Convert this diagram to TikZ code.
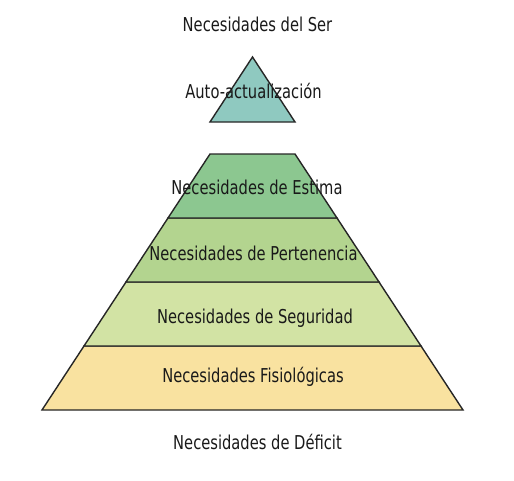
\documentclass[tikz,border=0pt]{standalone}
\usepackage{fontspec}
\setmainfont{DejaVu Sans}
\usepackage{tikz}
\definecolor{autoteal}{HTML}{8FC9C0}
\definecolor{estimagreen}{HTML}{8CC790}
\definecolor{pertgreen}{HTML}{B3D48F}
\definecolor{segugreen}{HTML}{D2E3A4}
\definecolor{fisioyellow}{HTML}{F9E2A0}
\newcommand{\tall}[1]{\scalebox{1}[1.3]{#1}}

\begin{document}
\begin{tikzpicture}[x=1pt, y=-1pt,
  band/.style={draw=black!85, line width=1.4pt, line join=miter},
  lbl/.style={anchor=base, inner sep=0pt, text=black!90, font=\fontsize{14.7}{17}\selectfont}
]
\useasboundingbox (0,0) rectangle (514,480);

% pyramid bands
\filldraw[band, fill=fisioyellow] (42,410) -- (84,346) -- (421,346) -- (463,410) -- cycle;
\filldraw[band, fill=segugreen] (84,346) -- (126,282) -- (379,282) -- (421,346) -- cycle;
\filldraw[band, fill=pertgreen] (126,282) -- (168,218) -- (337,218) -- (379,282) -- cycle;
\filldraw[band, fill=estimagreen] (168,218) -- (210,154) -- (295,154) -- (337,218) -- cycle;
\filldraw[band, fill=autoteal] (210,122) -- (252.5,57) -- (295,122) -- cycle;

\node[lbl] (ser) at (257.5,31) {\tall{Necesidades del Ser}};
\node[lbl] (auto) at (253.5,98) {\tall{Auto-actualización}};
\node[lbl] (estima) at (257,194) {\tall{Necesidades de Estima}};
\node[lbl] (pert) at (253.5,260) {\tall{Necesidades de Pertenencia}};
\node[lbl] (segu) at (255,323) {\tall{Necesidades de Seguridad}};
\node[lbl] (fisio) at (253,382) {\tall{Necesidades Fisiológicas}};
\node[lbl] (deficit) at (257.5,449) {\tall{Necesidades de Déficit}};
\end{tikzpicture}
\end{document}
